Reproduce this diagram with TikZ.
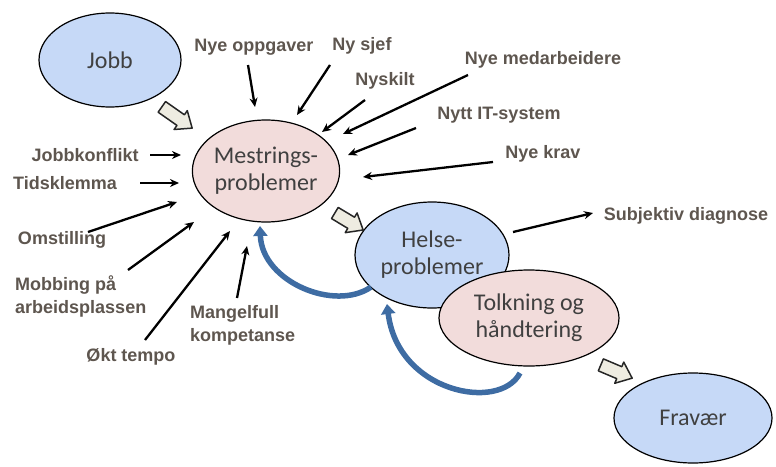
\documentclass[tikz,border=0pt]{standalone}
\usepackage{fontspec}
\setmainfont{Carlito}
\newfontfamily\labfont{Liberation Sans}
\usetikzlibrary{shapes.geometric,arrows.meta}
\definecolor{blu}{HTML}{C6D9F7}
\definecolor{pnk}{HTML}{F2DCDB}
\definecolor{ntxt}{HTML}{404040}
\definecolor{ltxt}{HTML}{5E564F}
\definecolor{loopc}{HTML}{3E6CA3}
\definecolor{blkc}{HTML}{EEECE1}
\newcommand\myblockarr[3]{%
  \draw[blockar, shift={#1}, rotate=#2]
    (-#3,-6.5) -- (#3-14,-6.5) -- (#3-14,-11.5) -- (#3,0) -- (#3-14,11.5) -- (#3-14,6.5) -- (-#3,6.5) -- cycle;}
\begin{document}
\begin{tikzpicture}[x=1pt,y=-1pt,
  ell/.style={ellipse, draw=black, line width=1.2pt, inner sep=0pt, text=ntxt,
    font=\fontsize{24}{27}\selectfont, align=center},
  lab/.style={text=ltxt, font=\labfont\bfseries\fontsize{18}{23}\selectfont, inner sep=0pt},
  arr/.style={line width=2.3pt, -{Stealth[length=9pt,width=8pt]}},
  looparr/.style={line width=5.5pt, draw=loopc, -{Triangle[length=10pt,width=14pt]}},
  blockar/.style={draw=black!85, fill=blkc, line width=1.5pt, line join=round}]
\useasboundingbox (0,0) rectangle (776,466);

% ellipses
\node[ell, fill=blu, minimum width=142pt, minimum height=94pt] (jobb) at (110,60) {Jobb};
\node[ell, fill=pnk, minimum width=146pt, minimum height=102pt] (mest) at (266,171) {Mestrings-\\problemer};
\node[ell, fill=blu, minimum width=154pt, minimum height=106pt] (helse) at (432,255) {Helse-\\problemer};
\node[ell, fill=pnk, minimum width=180pt, minimum height=96pt] (tolk) at (529,318) {Tolkning og\\håndtering};
\node[ell, fill=blu, minimum width=158pt, minimum height=90pt] (frav) at (693,418) {Fravær};

% block arrows
\myblockarr{(177,117.5)}{-35}{18.5}
\myblockarr{(349,221.5)}{-31}{16.5}
\myblockarr{(616.5,371.5)}{-23}{17}

% loop arrows
\coordinate (l1s) at (371,287);
\coordinate (l1e) at (260,226);
\coordinate (l2s) at (520,373);
\coordinate (l2e) at (387,304);
\draw[looparr] (l1s) .. controls (335,312) and (262,282) .. (l1e);
\draw[looparr] (l2s) .. controls (500,412) and (398,393) .. (l2e);

% labels
\node[lab] (t1) at (254,47) {Nye oppgaver};
\node[lab] (t2) at (362,46) {Ny sjef};
\node[lab] (t3) at (385,81) {Nyskilt};
\node[lab] (t4) at (543,60) {Nye medarbeidere};
\node[lab] (t5) at (499,115) {Nytt IT-system};
\node[lab] (t6) at (543,154) {Nye krav};
\node[lab] (t7) at (686,216) {Subjektiv diagnose};
\node[lab] (t8) at (85,155) {Jobbkonflikt};
\node[lab] (t9) at (65,183) {Tidsklemma};
\node[lab] (t10) at (62,240) {Omstilling};
\node[lab, align=left, anchor=west] (t11) at (15,296) {Mobbing på\\arbeidsplassen};
\node[lab] (t12) at (131,357) {Økt tempo};
\node[lab, align=left, anchor=west] (t13) at (190,325) {Mangelfull\\kompetanse};

% arrow endpoints
\coordinate (a1s) at (248,65);  \coordinate (a1e) at (255,107);
\coordinate (a2s) at (330,65);  \coordinate (a2e) at (297,115);
\coordinate (a3s) at (365,100); \coordinate (a3e) at (322,132);
\coordinate (a4s) at (468,75);  \coordinate (a4e) at (343,134);
\coordinate (a5s) at (416,128); \coordinate (a5e) at (348,155);
\coordinate (a6s) at (493,162); \coordinate (a6e) at (363,177);
\coordinate (a7s) at (513,232); \coordinate (a7e) at (593,213);
\coordinate (a8s) at (150,155); \coordinate (a8e) at (181,155);
\coordinate (a9s) at (140,183); \coordinate (a9e) at (179,183);
\coordinate (a10s) at (88,232); \coordinate (a10e) at (177,202);
\coordinate (a11s) at (128,270); \coordinate (a11e) at (194,222);
\coordinate (a12s) at (145,340); \coordinate (a12e) at (230,231);
\coordinate (a13s) at (237,298); \coordinate (a13e) at (247,246);

\draw[arr] (a1s) -- (a1e);
\draw[arr] (a2s) -- (a2e);
\draw[arr] (a3s) -- (a3e);
\draw[arr] (a4s) -- (a4e);
\draw[arr] (a5s) -- (a5e);
\draw[arr] (a6s) -- (a6e);
\draw[arr] (a7s) -- (a7e);
\draw[arr] (a8s) -- (a8e);
\draw[arr, line width=2.8pt] (a9s) -- (a9e);
\draw[arr] (a10s) -- (a10e);
\draw[arr] (a11s) -- (a11e);
\draw[arr] (a12s) -- (a12e);
\draw[arr] (a13s) -- (a13e);
\end{tikzpicture}
\end{document}
